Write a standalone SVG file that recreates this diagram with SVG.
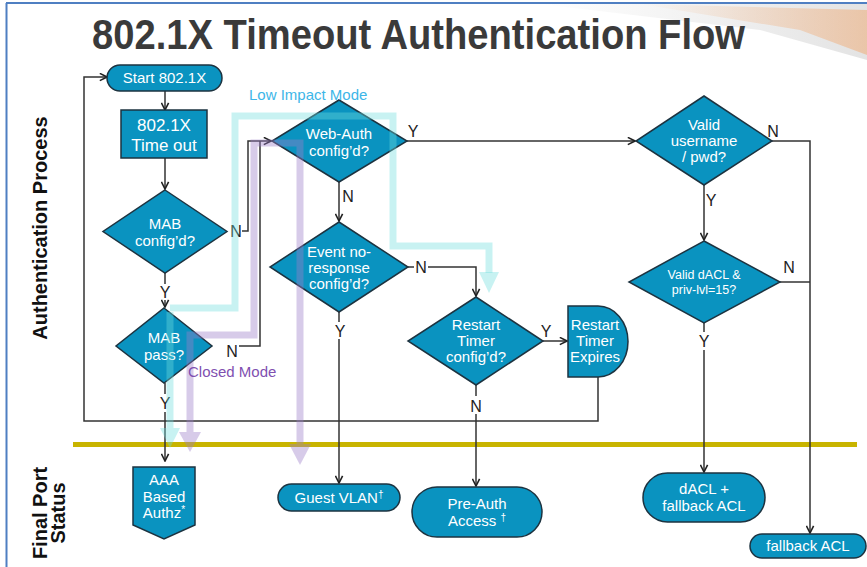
<svg xmlns="http://www.w3.org/2000/svg" width="867" height="567" viewBox="0 0 867 567">
  <defs>
    <style>
      .node { fill: #0a93c0; stroke: #1d3340; stroke-width: 1.5; }
      .ntext { font-family: "Liberation Sans", Arial, sans-serif; font-size: 15px; fill: #ffffff; text-anchor: middle; }
      .small { font-size: 12.5px; }
      .large { font-size: 17px; }
      .lbl { font-family: "Liberation Sans", Arial, sans-serif; font-size: 16px; fill: #222222; text-anchor: middle; }
      .conn { fill: none; stroke: #333333; stroke-width: 1.5; }
      .side { font-family: "Liberation Sans", Arial, sans-serif; font-size: 20px; font-weight: bold; fill: #111111; text-anchor: middle; }
      .cyan { fill: none; stroke: #6fdede; stroke-width: 7; stroke-opacity: 0.38; stroke-linejoin: miter; }
      .cyanhead { fill: #6fdede; fill-opacity: 0.38; }
      .purple { fill: none; stroke: #9a7cc8; stroke-width: 7; stroke-opacity: 0.4; stroke-linejoin: miter; }
      .purplehead { fill: #9a7cc8; fill-opacity: 0.4; }
    </style>
    <marker id="arrow" viewBox="0 0 10 10" refX="9" refY="5" markerWidth="9" markerHeight="9" markerUnits="userSpaceOnUse" orient="auto">
      <path d="M1,1 L9,5 L1,9" fill="none" stroke="#222222" stroke-width="1.8"/>
    </marker>
    <linearGradient id="swoosh1" x1="0" y1="0" x2="1" y2="0">
      <stop offset="0" stop-color="#f2a060" stop-opacity="0"/>
      <stop offset="1" stop-color="#f2a060" stop-opacity="0.45"/>
    </linearGradient>
    <linearGradient id="swoosh2" x1="0" y1="0" x2="1" y2="0">
      <stop offset="0" stop-color="#b0b0b0" stop-opacity="0"/>
      <stop offset="1" stop-color="#b0b0b0" stop-opacity="0.35"/>
    </linearGradient>
  </defs>

  <rect x="0" y="0" width="867" height="567" fill="#ffffff"/>

  <!-- decorative corner streaks -->
  <polygon points="540,4 867,4 867,60 760,30" fill="url(#swoosh2)"/>
  <polygon points="640,4 867,10 867,55 800,30" fill="url(#swoosh1)"/>

  <!-- page frame -->
  <line x1="6" y1="3" x2="867" y2="3" stroke="#4f7fc2" stroke-width="2"/>
  <line x1="6.5" y1="3" x2="6.5" y2="567" stroke="#4f7fc2" stroke-width="2"/>

  <!-- title -->
  <text x="92" y="49" font-family="Liberation Sans, Arial, sans-serif" font-size="43" font-weight="bold" fill="#3a3a3a" textLength="653" lengthAdjust="spacingAndGlyphs">802.1X Timeout Authentication Flow</text>

  <!-- swimlane labels -->
  <text class="side" transform="translate(47,228) rotate(-90)">Authentication Process</text>
  <text class="side" transform="translate(47,513) rotate(-90)">Final Port</text>
  <text class="side" transform="translate(65,513) rotate(-90)">Status</text>

  <!-- lane divider -->
  <line x1="73" y1="444.5" x2="857" y2="444.5" stroke="#c8b400" stroke-width="5"/>

  <!-- connectors -->
  <g id="connectors">
    <path class="conn" d="M165,91 V110" marker-end="url(#arrow)"/>
    <path class="conn" d="M165,158 V189" marker-end="url(#arrow)"/>
    <path class="conn" d="M242,231 H248 V141 H271" marker-end="url(#arrow)"/>
    <path class="conn" d="M165,273 V284"/>
    <path class="conn" d="M165,300 V307" marker-end="url(#arrow)"/>
    <path class="conn" d="M239,346 H260 V141"/>
    <path class="conn" d="M165,383 V394"/>
    <path class="conn" d="M165,412 V461" marker-end="url(#arrow)"/>
    <path class="conn" d="M598,377 V421 H84 V77 H107" marker-end="url(#arrow)"/>
    <path class="conn" d="M407,141 H635" marker-end="url(#arrow)"/>
    <path class="conn" d="M339,182 V221" marker-end="url(#arrow)"/>
    <path class="conn" d="M408,267 H414"/>
    <path class="conn" d="M428,267 H476 V296" marker-end="url(#arrow)"/>
    <path class="conn" d="M339,312 V322"/>
    <path class="conn" d="M339,339 V483" marker-end="url(#arrow)"/>
    <path class="conn" d="M543,341 H567" marker-end="url(#arrow)"/>
    <path class="conn" d="M476,385 V396"/>
    <path class="conn" d="M476,414 V486" marker-end="url(#arrow)"/>
    <path class="conn" d="M772,141 H810 V533" marker-end="url(#arrow)"/>
    <path class="conn" d="M704,185 V240" marker-end="url(#arrow)"/>
    <path class="conn" d="M780,282 H810"/>
    <path class="conn" d="M704,323 V332"/>
    <path class="conn" d="M704,350 V472" marker-end="url(#arrow)"/>

    <text class="lbl" x="236" y="237">N</text>
    <text class="lbl" x="165" y="298">Y</text>
    <text class="lbl" x="232" y="357">N</text>
    <text class="lbl" x="165" y="409">Y</text>
    <text class="lbl" x="413" y="137">Y</text>
    <text class="lbl" x="348" y="202">N</text>
    <text class="lbl" x="421" y="273">N</text>
    <text class="lbl" x="340" y="337">Y</text>
    <text class="lbl" x="546" y="337">Y</text>
    <text class="lbl" x="476" y="412">N</text>
    <text class="lbl" x="773" y="137">N</text>
    <text class="lbl" x="711" y="206">Y</text>
    <text class="lbl" x="789" y="273">N</text>
    <text class="lbl" x="704" y="347">Y</text>
  </g>

  <!-- nodes -->
  <g id="start">
    <rect class="node" x="107" y="65" width="115" height="26" rx="13"/>
    <text class="ntext" x="164.5" y="83">Start 802.1X</text>
  </g>
  <g id="timeout">
    <rect class="node" x="121" y="110" width="86" height="48"/>
    <text class="ntext large" x="164" y="131">802.1X</text>
    <text class="ntext large" x="164" y="151">Time out</text>
  </g>
  <g id="mab-configured">
    <polygon class="node" points="165,190 227,231.5 165,273 103,231.5"/>
    <text class="ntext" x="165" y="229">MAB</text>
    <text class="ntext" x="165" y="246">config’d?</text>
  </g>
  <g id="mab-pass">
    <polygon class="node" points="164,308 212,346 164,383 116,346"/>
    <text class="ntext" x="164" y="343">MAB</text>
    <text class="ntext" x="164" y="360">pass?</text>
  </g>
  <g id="webauth-configured">
    <polygon class="node" points="339,100 407,141 339,182 272,141"/>
    <text class="ntext" x="339" y="139">Web-Auth</text>
    <text class="ntext" x="339" y="156">config’d?</text>
  </g>
  <g id="event-noresponse">
    <polygon class="node" points="339,222 408,267 339,312 270,267"/>
    <text class="ntext" x="339" y="257">Event no-</text>
    <text class="ntext" x="339" y="273">response</text>
    <text class="ntext" x="339" y="289">config’d?</text>
  </g>
  <g id="restart-configured">
    <polygon class="node" points="476,297 543,341 476,385 408,341"/>
    <text class="ntext" x="476" y="330">Restart</text>
    <text class="ntext" x="476" y="346">Timer</text>
    <text class="ntext" x="476" y="362">config’d?</text>
  </g>
  <g id="restart-expires">
    <path class="node" d="M568,306 H598 A30,35.5 0 0 1 598,377 H568 Z"/>
    <text class="ntext" x="595" y="330">Restart</text>
    <text class="ntext" x="595" y="346">Timer</text>
    <text class="ntext" x="595" y="362">Expires</text>
  </g>
  <g id="valid-credentials">
    <polygon class="node" points="704,96 772,141 704,185 636,141"/>
    <text class="ntext" x="704" y="130">Valid</text>
    <text class="ntext" x="704" y="146">username</text>
    <text class="ntext" x="704" y="162">/ pwd?</text>
  </g>
  <g id="valid-dacl">
    <polygon class="node" points="704,241 780,282 704,323 629,282"/>
    <text class="ntext small" x="704" y="279">Valid dACL &amp;</text>
    <text class="ntext small" x="704" y="294">priv-lvl=15?</text>
  </g>
  <g id="aaa-authz">
    <path class="node" d="M133,467 H195 V525 L164,539 L133,525 Z"/>
    <text class="ntext" x="164" y="485">AAA</text>
    <text class="ntext" x="164" y="502">Based</text>
    <text class="ntext" x="164" y="518">Authz<tspan font-size="10" dy="-5">*</tspan></text>
  </g>
  <g id="guest-vlan">
    <rect class="node" x="278" y="484" width="122" height="27" rx="13.5"/>
    <text class="ntext" x="339" y="503">Guest VLAN<tspan font-size="10" dy="-5">†</tspan></text>
  </g>
  <g id="preauth-access">
    <rect class="node" x="412" y="487" width="130" height="50" rx="25"/>
    <text class="ntext" x="477" y="509">Pre-Auth</text>
    <text class="ntext" x="477" y="526">Access <tspan font-size="10" dy="-5">†</tspan></text>
  </g>
  <g id="dacl-fallback">
    <rect class="node" x="643" y="473" width="122" height="49" rx="24.5"/>
    <text class="ntext" x="704" y="494">dACL +</text>
    <text class="ntext" x="704" y="511">fallback ACL</text>
  </g>
  <g id="fallback-acl">
    <rect class="node" x="750" y="534" width="116" height="24" rx="12"/>
    <text class="ntext" x="808" y="551">fallback ACL</text>
  </g>

  <!-- mode overlays -->
  <g id="low-impact-mode">
    <path class="cyan" d="M170,308 H235 V116 H393 V246 H489 V273"/>
    <polygon class="cyanhead" points="479,272 499,272 489,293"/>
    <path class="cyan" d="M170,312 V428"/>
    <polygon class="cyanhead" points="160,428 180,428 170,448"/>
    <text x="249" y="100" font-family="Liberation Sans, Arial, sans-serif" font-size="15" fill="#3db6e8">Low Impact Mode</text>
  </g>
  <g id="closed-mode">
    <path class="purple" d="M190,432 V335 H254 V143 H300 V444"/>
    <polygon class="purplehead" points="179,432 201,432 190,452"/>
    <polygon class="purplehead" points="289,444 311,444 300,465"/>
    <text x="188" y="377" font-family="Liberation Sans, Arial, sans-serif" font-size="15" fill="#8050b0">Closed Mode</text>
  </g>
</svg>
